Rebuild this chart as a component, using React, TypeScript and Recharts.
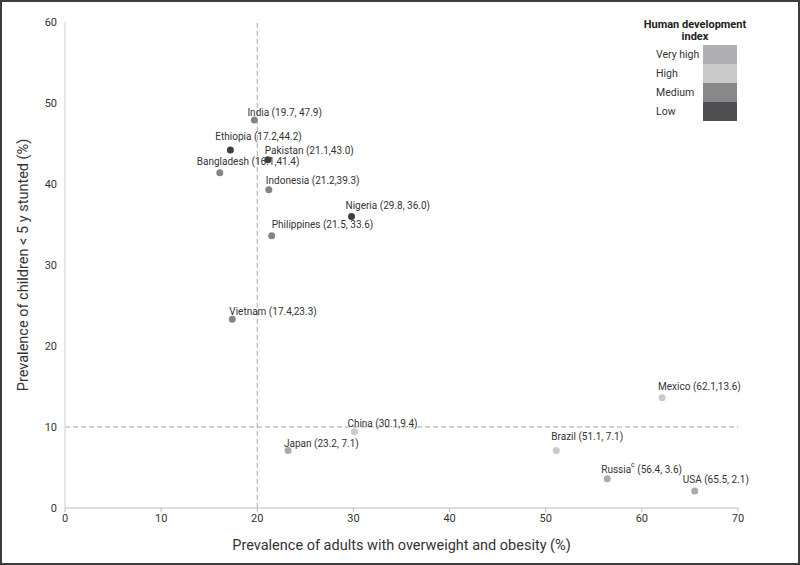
import { ScatterChart, Scatter, XAxis, YAxis, ReferenceLine } from "recharts";

const countries = ["India", "Ethiopia", "Pakistan", "Bangladesh", "Indonesia", "Nigeria", "Philippines", "Vietnam", "Mexico", "China", "Japan", "Brazil", "Russia", "USA"];
const overweight = [19.7, 17.2, 21.1, 16.1, 21.2, 29.8, 21.5, 17.4, 62.1, 30.1, 23.2, 51.1, 56.4, 65.5];
const stunted = [47.9, 44.2, 43.0, 41.4, 39.3, 36.0, 33.6, 23.3, 13.6, 9.4, 7.1, 7.1, 3.6, 2.1];
const hdi = ["Medium", "Low", "Low", "Medium", "Medium", "Low", "Medium", "Medium", "High", "High", "Very high", "High", "Very high", "Very high"];
const labels = [
  "India (19.7, 47.9)",
  "Ethiopia (17.2,44.2)",
  "Pakistan (21.1,43.0)",
  "Bangladesh (16.1,41.4)",
  "Indonesia (21.2,39.3)",
  "Nigeria  (29.8, 36.0)",
  "Philippines (21.5, 33.6)",
  "Vietnam (17.4,23.3)",
  "Mexico (62.1,13.6)",
  "China (30.1,9.4)",
  "Japan (23.2, 7.1)",
  "Brazil (51.1, 7.1)",
  "Russia^c (56.4, 3.6)",
  "USA (65.5, 2.1)",
];
const xTicks = [0, 10, 20, 30, 40, 50, 60, 70];
const yTicks = [0, 10, 20, 30, 40, 50, 60];
const hdiLevels = ["Very high", "High", "Medium", "Low"];

const HDI_COLORS: Record<string, string> = {
  "Very high": "#b0b0b2",
  High: "#c9c9ca",
  Medium: "#87888a",
  Low: "#4f4f51",
};
const DOT_COLORS: Record<string, string> = {
  "Very high": "#aaaaaa",
  High: "#cacaca",
  Medium: "#858585",
  Low: "#3f3f3f",
};

// label offset from the dot: [dx to text start, dy to text middle]
const LABEL_OFFSET: Record<string, [number, number]> = {
  India: [-7, -8],
  Ethiopia: [-15, -13],
  Pakistan: [-3, -9],
  Bangladesh: [-23, -11],
  Indonesia: [-3, -9],
  Nigeria: [-6, -11],
  Philippines: [0, -11],
  Vietnam: [-3, -8],
  Mexico: [-4, -11],
  China: [-7, -8],
  Japan: [-4, -7],
  Brazil: [-5, -14],
  Russia: [-6, -10],
  USA: [-12, -11],
};

const data = countries.map((c, i) => ({
  name: c,
  x: overweight[i],
  y: stunted[i],
  hdi: hdi[i],
  label: labels[i],
}));

const FONT = "Roboto, 'Liberation Sans', sans-serif";

function Dot(props: any) {
  const { cx, cy, payload } = props;
  const [dx, dy] = LABEL_OFFSET[payload.name] || [0, -10];
  const parts = payload.label.split("^c");
  return (
    <g>
      <circle cx={cx} cy={cy} r={3.5} fill={DOT_COLORS[payload.hdi]} />
      <text x={cx + dx} y={cy + dy} dominantBaseline="central" fontSize={10} fill="#333" fontFamily={FONT}>
        {parts.length > 1 ? (
          <>
            <tspan>{parts[0]}</tspan>
            <tspan dy={-4} fontSize={7}>c</tspan>
            <tspan dy={4}>{parts[1]}</tspan>
          </>
        ) : (
          payload.label
        )}
      </text>
    </g>
  );
}

export default function App() {
  return (
    <div style={{ position: "absolute", top: 0, left: 0, width: 800, height: 565, background: "#fff", fontFamily: FONT }}>
      <ScatterChart width={800} height={565} margin={{ top: 22, right: 62, bottom: 0, left: 0 }}>
        <XAxis
          type="number"
          dataKey="x"
          domain={[0, 70]}
          ticks={xTicks}
          height={57}
          tickSize={4}
          stroke="#bdbdbd"
          tick={{ fontSize: 11, fill: "#333", fontFamily: FONT }}
          label={{ value: "Prevalence of adults with overweight and obesity (%)", position: "center", dy: 8, fontSize: 14.5, fill: "#333", fontFamily: FONT }}
        />
        <YAxis
          type="number"
          dataKey="y"
          domain={[0, 60]}
          ticks={yTicks}
          width={65}
          tickLine={false}
          stroke="#cfcfcf"
          tick={{ fontSize: 11, fill: "#333", fontFamily: FONT }}
          label={{ value: "Prevalence of children < 5 y stunted (%)", angle: -90, position: "center", dx: -10, fontSize: 14.5, fill: "#333", fontFamily: FONT }}
        />
        <ReferenceLine x={20} stroke="#a8a8a8" strokeDasharray="5 3" />
        <ReferenceLine y={10} stroke="#a8a8a8" strokeDasharray="5 3" />
        <Scatter data={data} shape={<Dot />} isAnimationActive={false} />
      </ScatterChart>

      <div style={{ position: "absolute", left: 630, top: 19, width: 130, textAlign: "center", fontSize: 11, fontWeight: "bold", color: "#222", lineHeight: "12px" }}>
        Human development
        <br />
        index
      </div>
      {hdiLevels.map((lvl, i) => (
        <div key={lvl}>
          <div style={{ position: "absolute", left: 656, top: 45 + i * 19, height: 19, lineHeight: "19px", fontSize: 10.5, color: "#333" }}>{lvl}</div>
          <div style={{ position: "absolute", left: 703, top: 45 + i * 19, width: 34, height: 19, background: HDI_COLORS[lvl] }} />
        </div>
      ))}

      <div style={{ position: "absolute", top: 0, left: 0, width: 800, height: 565, border: "2px solid #3d3d3d", boxSizing: "border-box", pointerEvents: "none" }} />
    </div>
  );
}
